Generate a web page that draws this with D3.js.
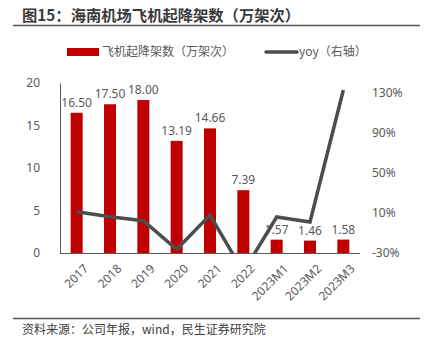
<!DOCTYPE html>
<html><head><meta charset="utf-8">
<script src="https://cdn.jsdelivr.net/npm/d3@7"></script>
<style>body{margin:0;background:#fff;}svg{display:block;font-family:"Noto Sans CJK SC","Noto Sans",sans-serif;}</style>
</head><body><svg id="c" width="436" height="346"></svg>
<script>
const categories = ["2017","2018","2019","2020","2021","2022","2023M1","2023M2","2023M3"];
const flights = [16.50,17.50,18.00,13.19,14.66,7.39,1.57,1.46,1.58];
const yoy = [11.3,6.3,2.3,-26.3,8,-49,6,1,133];
const leftTicks = [0,5,10,15,20];
const rightTicks = [-30,10,50,90,130];

const svg = d3.select("#c");
const m = {l:60, r:360, t:83, b:253};
const x = d3.scaleBand().domain(categories).range([m.l, m.r]).paddingInner(0.64).paddingOuter(0.32);
const yL = d3.scaleLinear().domain([0,20]).range([m.b, m.t]);
const yR = d3.scaleLinear().domain([-30,140]).range([m.b, m.t]);

// title
svg.append("text").attr("x",22).attr("y",21).attr("font-size",15.3).attr("font-weight","bold").attr("fill","#3a3a3a").text("图15：海南机场飞机起降架数（万架次）");
svg.append("line").attr("x1",13).attr("x2",420).attr("y1",25.5).attr("y2",25.5).attr("stroke","#555").attr("stroke-width",1.3);

// legend
svg.append("rect").attr("x",67).attr("y",48).attr("width",32).attr("height",8).attr("fill","#c00000");
svg.append("text").attr("x",102).attr("y",56).attr("font-size",12).attr("fill","#595959").text("飞机起降架数（万架次）");
svg.append("line").attr("x1",266).attr("x2",297).attr("y1",52).attr("y2",52).attr("stroke","#4d4d4d").attr("stroke-width",3.5).attr("stroke-linecap","round");
svg.append("text").attr("x",299).attr("y",56).attr("font-size",12).attr("fill","#595959").text("yoy（右轴）");

// bars
svg.append("g").selectAll("rect").data(flights).join("rect")
  .attr("x",(d,i)=>x(categories[i])).attr("width",x.bandwidth())
  .attr("y",d=>yL(d)).attr("height",d=>yL(0)-yL(d)).attr("fill","#c00000");

// left axis
const axL = svg.append("g").attr("transform",`translate(${m.l},0)`)
  .call(d3.axisLeft(yL).tickValues(leftTicks).tickSize(0).tickPadding(20));
axL.select(".domain").attr("stroke","#595959");
axL.selectAll("text").attr("font-size",12).attr("fill","#595959").attr("font-family","Noto Sans, sans-serif");

// right axis
const axR = svg.append("g").attr("transform",`translate(${m.r},0)`)
  .call(d3.axisRight(yR).tickValues(rightTicks).tickSize(0).tickPadding(12).tickFormat(d=>d+"%"));
axR.select(".domain").remove();
axR.selectAll("text").attr("font-size",12).attr("fill","#595959").attr("font-family","Noto Sans, sans-serif");

// bottom axis
const axB = svg.append("g").attr("transform",`translate(0,${m.b})`)
  .call(d3.axisBottom(x).tickSize(0).tickPadding(6));
axB.select(".domain").attr("stroke","#595959").attr("d",`M${m.l},0.5H${m.r}`);
axB.selectAll("text").attr("font-size",12).attr("fill","#595959").attr("font-family","Noto Sans, sans-serif")
  .attr("text-anchor","end").attr("transform","translate(3,7) rotate(-45)").attr("dy","0.6em");

// data labels
svg.append("g").selectAll("text").data(flights).join("text")
  .attr("x",(d,i)=>x(categories[i])+x.bandwidth()/2).attr("y",d=>yL(d)-6)
  .attr("text-anchor","middle").attr("font-size",12).attr("fill","#595959").attr("font-family","Noto Sans, sans-serif")
  .text(d=>d.toFixed(2));

// yoy line clipped
svg.append("clipPath").attr("id","clip").append("rect").attr("x",m.l).attr("y",0).attr("width",m.r-m.l).attr("height",m.b);
svg.append("path").datum(yoy).attr("clip-path","url(#clip)")
  .attr("d",d3.line().x((d,i)=>x(categories[i])+x.bandwidth()/2).y(d=>yR(d)))
  .attr("fill","none").attr("stroke","#4d4d4d").attr("stroke-width",3.5).attr("stroke-linejoin","miter");

// footer
svg.append("line").attr("x1",13).attr("x2",420).attr("y1",318.5).attr("y2",318.5).attr("stroke","#555").attr("stroke-width",1.3);
svg.append("text").attr("x",22).attr("y",334).attr("font-size",12).attr("fill","#404040").text("资料来源：公司年报，wind，民生证券研究院");
</script></body></html>
